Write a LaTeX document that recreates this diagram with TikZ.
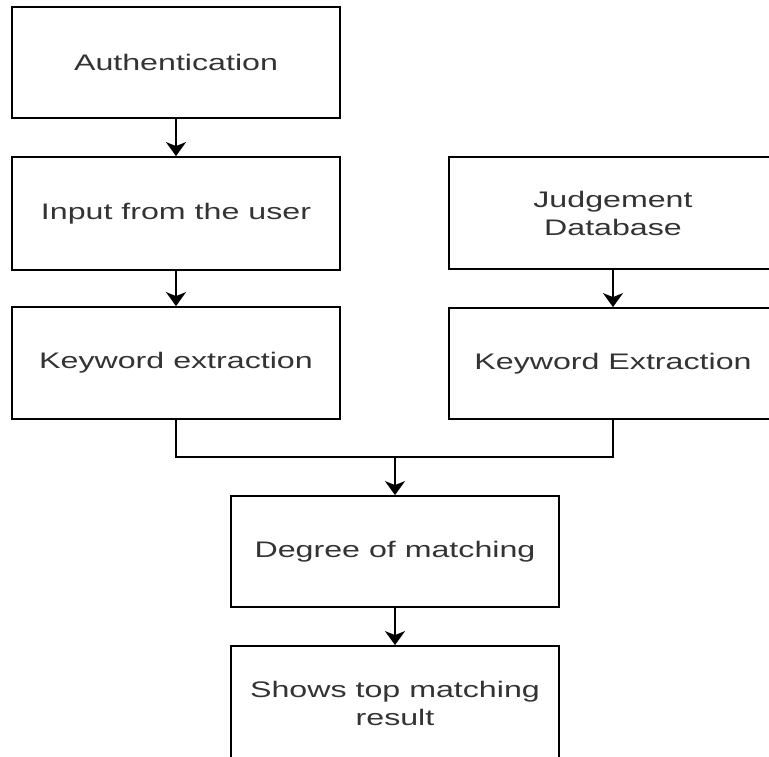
\documentclass[tikz,border=0pt]{standalone}
\usepackage{fontspec}
\setmainfont{Liberation Sans}[FakeStretch=1.43]
\usetikzlibrary{arrows.meta}
\tikzset{
  box/.style={draw=black, line width=1.8pt, fill=white, minimum width=328pt, inner sep=0pt,
    align=center, text=black!80, font=\fontsize{22.5}{28}\selectfont},
  conn/.style={line width=1.8pt, draw=black},
  arr/.style={conn, -{Stealth[length=14pt, width=20pt, inset=4pt]}}
}
\begin{document}
\begin{tikzpicture}[x=1pt, y=-1pt]
\useasboundingbox (0,0) rectangle (769,757);
\clip (0,0) rectangle (769,757);
\node[box, minimum height=111pt] (auth) at (176,62.5) {Authentication};
\node[box, minimum height=113pt] (input) at (176,213.5) {Input from the user};
\node[box, minimum height=112pt] (kw) at (176,363) {Keyword extraction};
\node[box, minimum height=112pt] (jd) at (613,213) {Judgement\\Database};
\node[box, minimum height=111pt] (kwe) at (613,363.5) {Keyword Extraction};
\node[box, minimum height=111pt] (deg) at (395,551.5) {Degree of matching};
\node[box, minimum height=114pt] (show) at (395,703) {Shows top matching\\result};
\coordinate (join) at (395,457);
\draw[arr] (auth.south) -- (input.north);
\draw[arr] (input.south) -- (kw.north);
\draw[arr] (jd.south) -- (kwe.north);
\draw[conn] (kw.south) |- (join);
\draw[conn] (kwe.south) |- (join);
\draw[arr] (join) -- (deg.north);
\draw[arr] (deg.south) -- (show.north);
\end{tikzpicture}
\end{document}
